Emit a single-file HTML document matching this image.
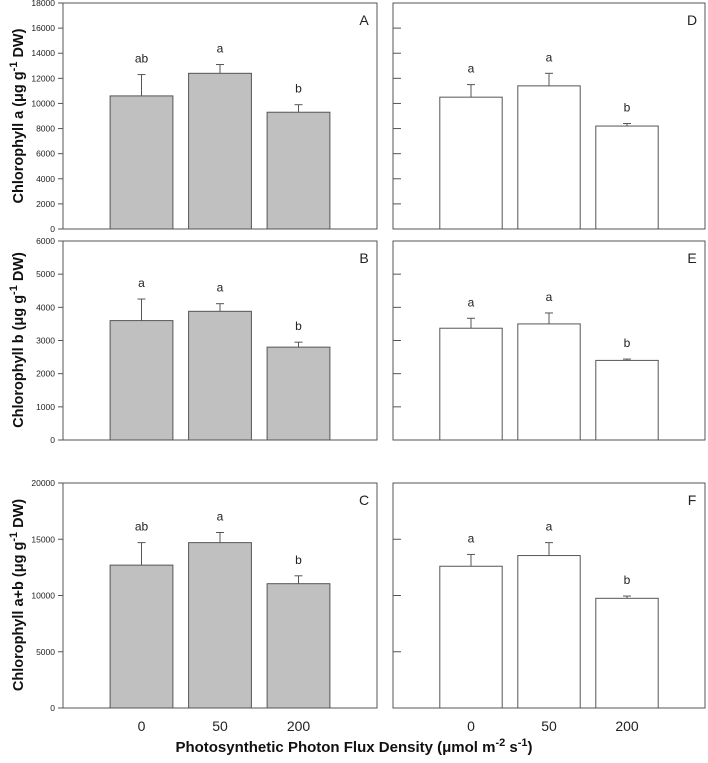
<!DOCTYPE html>
<html><head><meta charset="utf-8"><style>
body{margin:0;background:#fff;}
svg{font-family:"Liberation Sans",Arial,sans-serif;}
</style></head><body>
<svg id="c" width="708" height="758" xmlns="http://www.w3.org/2000/svg"></svg>
<script>
const categories=["0","50","200"];
const letters=["A","B","C","D","E","F"];
const valsA=[10600,12400,9300], errA=[1700,700,600], sigA=["ab","a","b"];
const valsB=[3600,3880,2800], errB=[650,230,150], sigB=["a","a","b"];
const valsC=[12700,14700,11050], errC=[2000,900,700], sigC=["ab","a","b"];
const valsD=[10500,11400,8200], errD=[1000,1000,200], sigD=["a","a","b"];
const valsE=[3370,3500,2400], errE=[300,330,40], sigE=["a","a","b"];
const valsF=[12600,13550,9750], errF=[1050,1150,200], sigF=["a","a","b"];
const ticksA=[0,2000,4000,6000,8000,10000,12000,14000,16000,18000];
const ticksB=[0,1000,2000,3000,4000,5000,6000];
const ticksC=[0,5000,10000,15000,20000];
const NS="http://www.w3.org/2000/svg";
const svg=document.getElementById('c');
function mk(t,a,p){const e=document.createElementNS(NS,t);for(const k in a)e.setAttribute(k,a[k]);(p||svg).appendChild(e);return e;}
const rows=[{y0:3,y1:229,max:18000,ticks:ticksA},{y0:241,y1:440,max:6000,ticks:ticksB},{y0:483,y1:708,max:20000,ticks:ticksC}];
const cols=[{x0:63,x1:377,fill:"#c0c0c0",labels:true},{x0:393,x1:705,fill:"#ffffff",labels:false}];
const data=[[valsA,errA,sigA],[valsB,errB,sigB],[valsC,errC,sigC],[valsD,errD,sigD],[valsE,errE,sigE],[valsF,errF,sigF]];
for(let c=0;c<2;c++)for(let r=0;r<3;r++){
  const R=rows[r],C=cols[c],idx=c*3+r,[v,e,s]=data[idx];
  const g=mk('g',{});
  
  
  const y=val=>R.y1-(val/R.max)*(R.y1-R.y0);
  const w=C.x1-C.x0;
  const xc=i=>C.x0+w*(0.25+0.25*i);
  const bw=w*0.2;
  const fr=mk('rect',{x:C.x0,y:R.y0,width:w,height:R.y1-R.y0,fill:"none",stroke:"#555","stroke-width":1},g);
  
  
  R.ticks.forEach(t=>{
    if(C.labels){
      mk('line',{x1:C.x0-5,x2:C.x0,y1:y(t),y2:y(t),stroke:"#555"},g);
      const tx=mk('text',{x:C.x0-8,y:y(t)+3,"font-size":8.5,"text-anchor":"end",fill:"#222"},g);
      tx.textContent=t;
      
      
    } else if(t>0&&t<R.max){
      mk('line',{x1:C.x0,x2:C.x0+8,y1:y(t),y2:y(t),stroke:"#555"},g);
    }
  });
  v.forEach((val,i)=>{
    const top=y(val+e[i]);
    mk('line',{x1:xc(i),x2:xc(i),y1:y(val),y2:top,stroke:"#555"},g);
    mk('line',{x1:xc(i)-4,x2:xc(i)+4,y1:top,y2:top,stroke:"#555"},g);
    const b=mk('rect',{x:xc(i)-bw/2,y:y(val),width:bw,height:R.y1-y(val),fill:C.fill,stroke:"#555","stroke-width":1},g);
    
    
    const st=mk('text',{x:xc(i),y:top-12,"font-size":12,"text-anchor":"middle",fill:"#222"},g);
    st.textContent=s[i];
    
    
  });
  const pl=mk('text',{x:C.x1-13,y:R.y0+22,"font-size":14,"text-anchor":"middle",fill:"#222"},g);
  pl.textContent=letters[idx];
  
  
  if(r===2){categories.forEach((cat,i)=>{
    const t=mk('text',{x:xc(i),y:731,"font-size":14,"text-anchor":"middle",fill:"#222"},g);
    t.textContent=cat;
    
    
  });}
}
const titles=[["Chlorophyll a (μg g","-1"," DW)",116],["Chlorophyll b (μg g","-1"," DW)",340],["Chlorophyll a+b (μg g","-1"," DW)",595]];
titles.forEach(([a,sup,b,cy])=>{
  const t=mk('text',{transform:`translate(23,${cy}) rotate(-90)`,"font-size":14.5,"font-weight":"bold","text-anchor":"middle",fill:"#111"});
  
  
  t.innerHTML=`${a}<tspan dy="-6" font-size="11">${sup}</tspan><tspan dy="6">${b}</tspan>`;
});
const xt=mk('text',{x:354,y:752,"font-size":15,"font-weight":"bold","text-anchor":"middle",fill:"#111"});


xt.innerHTML='Photosynthetic Photon Flux Density (μmol m<tspan dy="-6" font-size="11">-2</tspan><tspan dy="6"> s</tspan><tspan dy="-6" font-size="11">-1</tspan><tspan dy="6">)</tspan>';
</script>
</body></html>
